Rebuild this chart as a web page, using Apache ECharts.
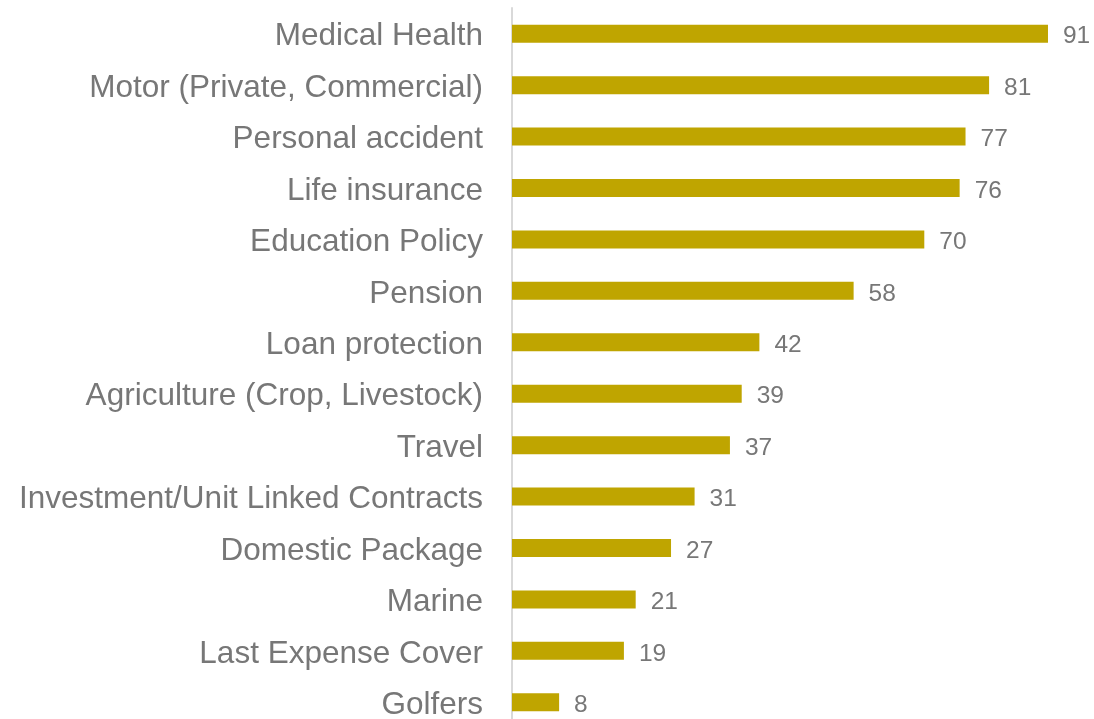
<!DOCTYPE html>
<html>
<head>
<meta charset="utf-8">
<script src="https://cdn.jsdelivr.net/npm/echarts@6/dist/echarts.min.js"></script>
<style>
  html, body { margin: 0; padding: 0; background: #fff; }
  #main { width: 1094px; height: 719px; }
</style>
</head>
<body>
<div id="main"></div>
<script>
// categories top to bottom
const categories = [
  'Medical Health',
  'Motor (Private, Commercial)',
  'Personal accident',
  'Life insurance',
  'Education Policy',
  'Pension',
  'Loan protection',
  'Agriculture (Crop, Livestock)',
  'Travel',
  'Investment/Unit Linked Contracts',
  'Domestic Package',
  'Marine',
  'Last Expense Cover',
  'Golfers'
];
const values = [91, 81, 77, 76, 70, 58, 42, 39, 37, 31, 27, 21, 19, 8];

const myChart = echarts.init(document.getElementById('main'));
myChart.setOption({
  animation: false,
  grid: { left: 512, top: 8, width: 589, height: 720, outerBoundsMode: 'none' },
  xAxis: {
    type: 'value',
    min: 0,
    max: 100,
    show: false
  },
  yAxis: {
    type: 'category',
    inverse: true,
    data: categories,
    axisLine: { show: true, lineStyle: { color: '#d9d9d9', width: 2 } },
    axisTick: { show: false },
    axisLabel: {
      margin: 29,
      formatter: (v) => '{a|' + v + '}',
      rich: {
        a: {
          color: '#777777',
          fontFamily: 'Liberation Sans, Arial, sans-serif',
          fontSize: 31.5,
          padding: [6, 0, 0, 0]
        }
      }
    }
  },
  series: [{
    type: 'bar',
    data: values,
    barWidth: 18,
    itemStyle: { color: '#bfa500' },
    label: {
      show: true,
      position: 'right',
      distance: 15,
      offset: [0, 3],
      color: '#777777',
      fontFamily: 'Liberation Sans, Arial, sans-serif',
      fontSize: 24.5
    }
  }]
});
</script>
</body>
</html>
